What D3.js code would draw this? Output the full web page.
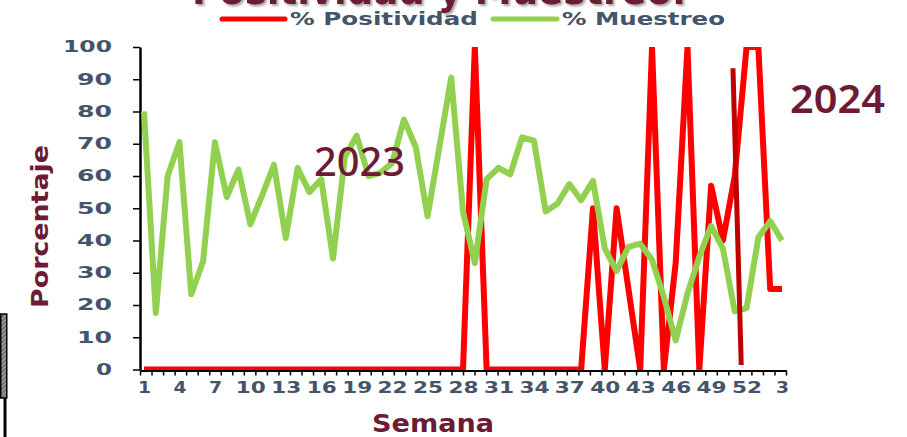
<!DOCTYPE html>
<html>
<head>
<meta charset="utf-8">
<script src="https://cdn.jsdelivr.net/npm/d3@7"></script>
<style>
  html, body { margin: 0; padding: 0; background: #ffffff; }
  svg { display: block; }
</style>
</head>
<body>
<div id="chart"></div>
<script>
// Epidemiological weeks: all of 2023 followed by the first weeks of 2024
const weekLabels = ["1","2","3","4","5","6","7","8","9","10",
  "11","12","13","14","15","16","17","18","19","20",
  "21","22","23","24","25","26","27","28","29","30",
  "31","32","33","34","35","36","37","38","39","40",
  "41","42","43","44","45","46","47","48","49","50",
  "51","52","1","2","3"];

// % of positive samples per week
const positividad = [0,0,0,0,0,0,0,0,0,0,
  0,0,0,0,0,0,0,0,0,0,
  0,0,0,0,0,0,0,0,100,0,
  0,0,0,0,0,0,0,0,50,0,
  50,25,0,100,0,33,100,0,57,40,
  60,100,100,25,25];

// % of sampling coverage per week
const muestreo = [80,17.5,60,70.5,23.3,33.5,70.5,53.5,62,45,
  54,63.5,40.8,62.5,55,59,34.4,66,72.5,60,
  61,64,77.5,69,47.5,69,90.5,49,33,59,
  62.5,60.5,72,71,49,51.5,57.5,52.5,58.5,37.5,
  30.5,38,39,34,22.5,9,23.5,35,44.5,37.5,
  18,19,41,46,40];

const yTicks = [0,10,20,30,40,50,60,70,80,90,100];
const seriesNames = ["% Positividad", "% Muestreo"];
const seriesColors = ["#ff0000", "#92d050"];

// Year change marker (category index, value)
const yearBreak = [{i: 49.85, v: 93.4}, {i: 50.55, v: 1.4}];
const yearLabels = ["2023", "2024"];

const W = 907, H = 437;
const maroon = "#6d1b34";
const slate = "#44546a";

const svg = d3.select("#chart").append("svg")
  .attr("width", W).attr("height", H);

const defs = svg.append("defs");
defs.append("clipPath").attr("id", "plotClip")
  .append("rect").attr("x", 140).attr("y", 47).attr("width", 660).attr("height", 323);
const hatch = defs.append("pattern").attr("id", "hatch")
  .attr("width", 3).attr("height", 3).attr("patternUnits", "userSpaceOnUse")
  .attr("patternTransform", "rotate(45)");
hatch.append("rect").attr("width", 3).attr("height", 3).attr("fill", "#9a9a9a");
hatch.append("line").attr("x1", 0).attr("y1", 0).attr("x2", 0).attr("y2", 3)
  .attr("stroke", "#333").attr("stroke-width", 1.2);
const shadow = defs.append("filter").attr("id", "shadow")
  .attr("x", "-5%").attr("y", "-20%").attr("width", "110%").attr("height", "140%");
shadow.append("feDropShadow").attr("dx", 2).attr("dy", 2).attr("stdDeviation", 1.2)
  .attr("flood-color", "#000").attr("flood-opacity", 0.35);

// Scales
const idx = d3.range(weekLabels.length);
const x = d3.scalePoint().domain(idx).range([144, 782]);
const xLin = d3.scaleLinear().domain([0, weekLabels.length - 1]).range([144, 782]);
const y = d3.scaleLinear().domain([0, 100]).range([369.5, 47]);
const tickX = d3.scaleLinear().domain([0, 56]).range([140, 786]);

// Title (partly outside the top edge)
svg.append("text")
  .attr("x", 192).attr("y", 4)
  .attr("textLength", 494).attr("lengthAdjust", "spacingAndGlyphs")
  .attr("font-family", "DejaVu Sans").attr("font-weight", "bold")
  .attr("font-size", 40).attr("fill", maroon)
  .attr("filter", "url(#shadow)")
  .text("Positividad y Muestreo.");

// Legend
const legendItems = [
  {name: seriesNames[0], color: seriesColors[0], x0: 222, x1: 285, tx: 290, tw: 188},
  {name: seriesNames[1], color: seriesColors[1], x0: 493, x1: 557, tx: 562, tw: 163}
];
const lg = svg.append("g");
legendItems.forEach(d => {
  lg.append("line").attr("x1", d.x0).attr("x2", d.x1).attr("y1", 19).attr("y2", 19)
    .attr("stroke", d.color).attr("stroke-width", 5).attr("stroke-linecap", "round");
  lg.append("text").attr("x", d.tx).attr("y", 25)
    .attr("textLength", d.tw).attr("lengthAdjust", "spacingAndGlyphs")
    .attr("font-family", "DejaVu Sans").attr("font-weight", 600)
    .attr("font-size", 17).attr("fill", slate).text(d.name);
});

// Y axis
const yAxis = svg.append("g").attr("transform", "translate(140,0)")
  .call(d3.axisLeft(y).tickValues(yTicks).tickSize(7).tickPadding(21).tickSizeOuter(0));
yAxis.select(".domain").attr("stroke", "#000").attr("stroke-width", 2.5);
yAxis.selectAll(".tick line").attr("stroke", "#000").attr("stroke-width", 1.5);
yAxis.selectAll(".tick text")
  .attr("font-family", "DejaVu Sans").attr("font-weight", "bold")
  .attr("font-size", 15).attr("fill", slate)
  .attr("textLength", d => String(d).length === 1 ? 16 : (String(d).length === 2 ? 35 : 49))
  .attr("lengthAdjust", "spacingAndGlyphs");

// X axis: minor tick marks
const xTickAxis = svg.append("g").attr("transform", "translate(0,370.5)")
  .call(d3.axisBottom(tickX).tickValues(d3.range(0, 57)).tickSize(5).tickFormat("").tickSizeOuter(0));
xTickAxis.select(".domain").attr("stroke", "#000").attr("stroke-width", 2);
xTickAxis.selectAll(".tick line").attr("stroke", "#000").attr("stroke-width", 1.5);

// X axis: week labels every third category
const labelIdx = idx.filter(i => i % 3 === 0);
const xAxis = svg.append("g").attr("transform", "translate(0,370)")
  .call(d3.axisBottom(x).tickValues(labelIdx).tickFormat(i => weekLabels[i])
    .tickSize(0).tickPadding(12));
xAxis.select(".domain").remove();
xAxis.selectAll(".tick text")
  .attr("font-family", "DejaVu Sans").attr("font-weight", "bold")
  .attr("font-size", 15).attr("fill", slate)
  .attr("textLength", i => weekLabels[i].length > 1 ? 30 : 13)
  .attr("lengthAdjust", "spacingAndGlyphs");

// Series lines
const plot = svg.append("g").attr("clip-path", "url(#plotClip)");
const line = d3.line().x((d, i) => xLin(i)).y(d => y(d));
[positividad, muestreo].forEach((vals, k) => {
  plot.append("path").datum(vals)
    .attr("d", line)
    .attr("fill", "none")
    .attr("stroke", seriesColors[k])
    .attr("stroke-width", 6)
    .attr("stroke-linejoin", "round");
});

// Year change marker
svg.append("line")
  .attr("x1", xLin(yearBreak[0].i)).attr("y1", y(yearBreak[0].v))
  .attr("x2", xLin(yearBreak[1].i)).attr("y2", y(yearBreak[1].v))
  .attr("stroke", "#c00000").attr("stroke-width", 5);

// Year labels
svg.append("text").attr("x", 314).attr("y", 176)
  .attr("textLength", 91).attr("lengthAdjust", "spacingAndGlyphs")
  .attr("font-family", "Noto Sans").attr("font-weight", 500)
  .attr("font-size", 40).attr("fill", maroon).text(yearLabels[0]);
svg.append("text").attr("x", 790).attr("y", 113)
  .attr("textLength", 95).attr("lengthAdjust", "spacingAndGlyphs")
  .attr("font-family", "Noto Sans").attr("font-weight", 600)
  .attr("font-size", 40).attr("fill", maroon).text(yearLabels[1]);

// Axis titles
svg.append("text").attr("x", 372).attr("y", 432)
  .attr("textLength", 122).attr("lengthAdjust", "spacingAndGlyphs")
  .attr("font-family", "DejaVu Sans").attr("font-weight", 600)
  .attr("font-size", 24).attr("fill", maroon).text("Semana");
svg.append("text")
  .attr("transform", "translate(48,308) rotate(-90)")
  .attr("textLength", 163).attr("lengthAdjust", "spacingAndGlyphs")
  .attr("font-family", "DejaVu Sans").attr("font-weight", "bold")
  .attr("font-size", 23).attr("fill", maroon).text("Porcentaje");

// Slide frame fragments on the left edge
svg.append("rect").attr("x", 0.75).attr("y", 314).attr("width", 6).attr("height", 84)
  .attr("fill", "url(#hatch)").attr("stroke", "#000").attr("stroke-width", 1.5);
svg.append("line").attr("x1", 5).attr("x2", 5).attr("y1", 398).attr("y2", 437)
  .attr("stroke", "#000").attr("stroke-width", 3);
</script>
</body>
</html>
